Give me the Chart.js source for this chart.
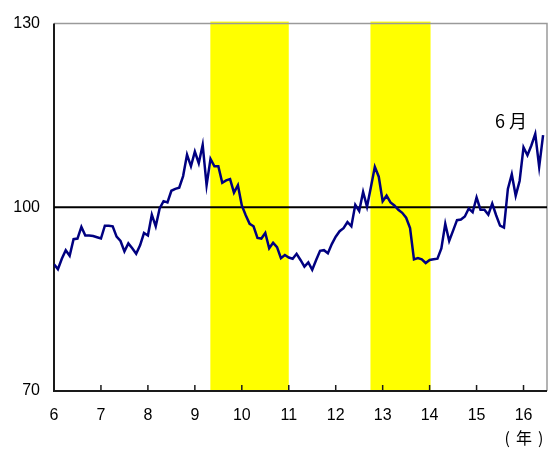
<!DOCTYPE html>
<html>
<head>
<meta charset="utf-8">
<script src="https://cdn.jsdelivr.net/npm/chart.js@4"></script>
<style>
  html, body { margin: 0; padding: 0; background: #fff; }
  #wrap { width: 555px; height: 450px; }
</style>
</head>
<body>
<div id="wrap"><canvas id="c" width="555" height="450"></canvas></div>
<script>
// Monthly index, first month of year 6 through June of year 16
const startYear = 6;
const indexValues = [
  90.7, 89.9, 91.6, 93.0, 92.1, 94.8, 94.9, 96.8, 95.4, 95.4, 95.3, 95.1,
  94.9, 97.0, 97.0, 96.9, 95.2, 94.5, 92.8, 94.1, 93.3, 92.4, 93.8, 95.8,
  95.4, 98.8, 96.9, 99.8, 101.0, 100.8, 102.7, 103.0, 103.2, 105.1, 108.6, 106.7,
  109.1, 107.2, 110.2, 103.6, 107.9, 106.7, 106.7, 104.0, 104.4, 104.6, 102.4, 103.6,
  100.3, 98.7, 97.3, 96.9, 95.0, 94.9, 95.8, 93.3, 94.2, 93.5, 91.7, 92.2,
  91.8, 91.6, 92.4, 91.4, 90.3, 91.0, 89.8, 91.4, 92.9, 93.0, 92.5, 94.0,
  95.2, 96.1, 96.6, 97.6, 96.9, 100.4, 99.4, 102.5, 100.1, 103.3, 106.6, 105.0,
  101.0, 101.9, 100.8, 100.3, 99.6, 99.1, 98.3, 96.6, 91.5, 91.7, 91.5, 90.9,
  91.4, 91.5, 91.6, 93.3, 97.3, 94.5, 96.2, 97.9, 98.0, 98.5, 99.8, 99.2,
  101.6, 99.6, 99.6, 98.8, 100.6, 98.7, 97.0, 96.7, 103.0, 105.4, 101.9, 104.3,
  109.8, 108.5, 110.1, 112.0, 106.6, 111.8
];
const yTicks = [70, 100, 130];
const yearTicks = [6, 7, 8, 9, 10, 11, 12, 13, 14, 15, 16];
const shadeFrom = [9.33, 12.74];
const shadeTo = [11.0, 14.02];
const baseLevel = 100;
const lastLabel = '6 月';
const yearUnit = '(年)';

const points = indexValues.map((v, i) => ({ x: startYear + i / 12, y: v }));

const FONT = '"Liberation Sans", Arial, sans-serif';
const CJK = '"Noto Sans CJK JP", "Liberation Sans", sans-serif';

// shaded periods, the 100 reference line and the plot frame
const decor = {
  id: 'decor',
  beforeDatasetsDraw(chart) {
    const { ctx, chartArea: a, scales: { x, y } } = chart;
    ctx.save();
    ctx.fillStyle = '#ffff00';
    shadeFrom.forEach((s, k) => {
      const x0 = x.getPixelForValue(s);
      const x1 = x.getPixelForValue(shadeTo[k]);
      ctx.fillRect(x0, a.top - 2, x1 - x0, a.bottom - a.top + 2);
    });
    // frame
    ctx.lineWidth = 1.5;
    ctx.strokeStyle = '#9a9a9a';
    ctx.beginPath();
    ctx.moveTo(a.left, a.top); ctx.lineTo(a.right, a.top); ctx.lineTo(a.right, a.bottom);
    ctx.stroke();
    ctx.lineWidth = 2;
    ctx.strokeStyle = '#1a1a1a';
    ctx.beginPath();
    ctx.moveTo(a.left, a.top); ctx.lineTo(a.left, a.bottom); ctx.lineTo(a.right, a.bottom);
    ctx.stroke();
    // year tick marks pointing inward
    ctx.lineWidth = 1.5;
    yearTicks.forEach(t => {
      const px = x.getPixelForValue(t);
      ctx.beginPath();
      ctx.moveTo(px, a.bottom); ctx.lineTo(px, a.bottom - 6);
      ctx.stroke();
    });
    // reference level
    const yb = y.getPixelForValue(baseLevel);
    ctx.lineWidth = 2;
    ctx.strokeStyle = '#000';
    ctx.beginPath();
    ctx.moveTo(a.left, yb); ctx.lineTo(a.right, yb);
    ctx.stroke();
    ctx.restore();
  },
  afterDatasetsDraw(chart) {
    const { ctx, scales: { x, y } } = chart;
    const last = points[points.length - 1];
    ctx.save();
    ctx.fillStyle = '#000';
    ctx.font = '18px ' + CJK;
    ctx.textAlign = 'center';
    ctx.textBaseline = 'middle';
    ctx.fillText(lastLabel, x.getPixelForValue(last.x) - 32, y.getPixelForValue(last.y) - 14);
    // unit label under the last year tick
    ctx.font = '16px ' + CJK;
    ctx.textAlign = 'left';
    ctx.letterSpacing = '6px';
    ctx.fillText(yearUnit, x.getPixelForValue(16) - 19, 438);
    ctx.restore();
  }
};

new Chart(document.getElementById('c'), {
  type: 'line',
  data: {
    datasets: [{
      data: points,
      borderColor: '#000080',
      borderWidth: 2.5,
      pointRadius: 0,
      tension: 0,
      fill: false
    }]
  },
  options: {
    responsive: false,
    animation: false,
    devicePixelRatio: 1,
    layout: { padding: { left: 0, top: 19, right: 8, bottom: 0 } },
    plugins: { legend: { display: false }, tooltip: { enabled: false } },
    scales: {
      x: {
        type: 'linear',
        min: 6,
        max: 16.5,
        border: { display: false },
        grid: { display: false, drawTicks: false },
        afterBuildTicks: s => { s.ticks = yearTicks.map(v => ({ value: v })); },
        afterFit: s => { s.height = 59; },
        ticks: { padding: 15, color: '#000', font: { family: FONT, size: 16 }, maxRotation: 0, autoSkip: false }
      },
      y: {
        min: 70,
        max: 130,
        border: { display: false },
        grid: { display: false, drawTicks: false },
        afterBuildTicks: s => { s.ticks = yTicks.map(v => ({ value: v })); },
        afterFit: s => { s.width = 54; },
        ticks: { padding: 14, color: '#000', font: { family: FONT, size: 16 } }
      }
    }
  },
  plugins: [decor]
});
</script>
</body>
</html>
